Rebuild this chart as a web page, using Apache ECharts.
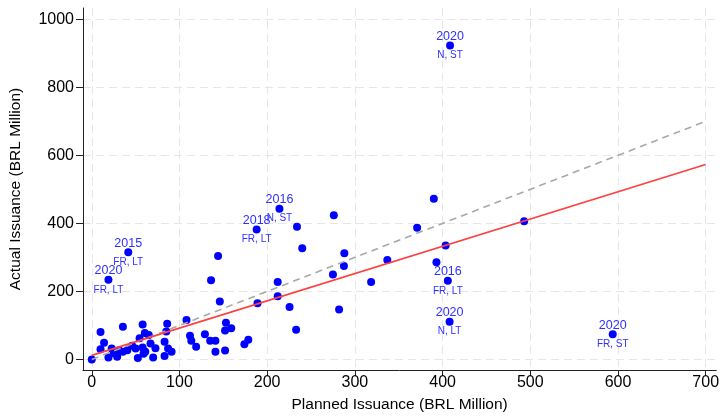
<!DOCTYPE html>
<html>
<head>
<meta charset="utf-8">
<script src="https://cdn.jsdelivr.net/npm/echarts@6/dist/echarts.min.js"></script>
<style>
  html, body { margin: 0; padding: 0; background: #fff; }
  #main { width: 722px; height: 418px; }
</style>
</head>
<body>
<div id="main"></div>
<script>
// planned vs actual issuance (BRL million), unlabelled points
const plannedX = [144, 136, 212, 212, 146, 189, 276, 234, 240, 288, 287.5, 275, 318.5, 225.5, 282, 233,
  390, 371, 493, 403.5, 337, 393, 108, 153, 159, 152, 112, 113.5, 119, 129, 135, 141, 141, 152, 178.5, 174,
  86, 85, 83, 87, 91, 83, 0, 10, 14, 10, 35.5, 58, 60.5, 65, 54.5, 46, 50, 58, 61, 72.6, 70, 52.5, 59,
  22.7, 25, 19, 29, 31, 35.5, 40.5, 67];
const actualY = [304, 233, 228, 186, 170, 165, 424, 390, 327, 312, 275, 250, 228, 154, 147, 87,
  472, 387, 406, 335, 292, 286, 116, 108, 92, 85, 70, 55, 37, 74, 55, 55, 23, 26, 58, 45,
  105, 82, 52, 32, 23, 10, 0, 81, 49, 30, 96, 103, 78, 72, 62, 40, 32, 35, 23, 33, 6, 4, 17,
  32, 18, 6, 8, 27, 23, 27, 47];

// labelled points
const labelX = [19, 41.6, 188, 214, 408.5, 406, 408, 594];
const labelY = [234, 315, 382, 443, 923, 231, 111, 74];
const labelYear = ["2020", "2015", "2018", "2016", "2020", "2016", "2020", "2020"];
const labelType = ["FR, LT", "FR, LT", "FR, LT", "N, ST", "N, ST", "FR, LT", "N, LT", "FR, ST"];

// fitted line and 45-degree line
const fitX = [0, 700];
const fitY = [12, 573];
const diagX = [0, 700];
const diagY = [0, 700];

const xTicks = [0, 100, 200, 300, 400, 500, 600, 700];
const yTicks = [0, 200, 400, 600, 800, 1000];

const font = "Liberation Sans, Arial, sans-serif";
const gridLine = { show: true, lineStyle: { color: "#e6e6e6", type: [8, 5], width: 1 } };
const labelBlue = "#3030ff";

const chart = echarts.init(document.getElementById("main"));

chart.setOption({
  backgroundColor: "#fff",
  animation: false,
  grid: { left: 81, right: 5, top: 8, bottom: 44 },
  xAxis: {
    type: "value",
    min: -10,
    max: 712,
    name: "Planned Issuance (BRL Million)",
    nameLocation: "middle",
    nameGap: 27,
    nameTextStyle: { fontFamily: font, fontSize: 15.5, color: "#000" },
    axisLine: { show: true, onZero: false, lineStyle: { color: "#222", width: 1 } },
    axisTick: { show: true, length: 6, customValues: xTicks, lineStyle: { color: "#222" } },
    axisLabel: { customValues: xTicks, margin: 5, fontFamily: font, fontSize: 16, color: "#000",
      formatter: (v) => String(v) },
    splitLine: gridLine,
  },
  yAxis: {
    type: "value",
    min: -31,
    max: 1033,
    name: "Actual Issuance (BRL Million)",
    nameLocation: "middle",
    nameGap: 59,
    nameTextStyle: { fontFamily: font, fontSize: 15.5, color: "#000" },
    axisLine: { show: true, onZero: false, lineStyle: { color: "#222", width: 1 } },
    axisTick: { show: true, length: 7, customValues: yTicks, lineStyle: { color: "#222" } },
    axisLabel: { customValues: yTicks, margin: 9, fontFamily: font, fontSize: 16, color: "#000",
      formatter: (v) => String(v) },
    splitLine: gridLine,
  },
  series: [
    {
      type: "scatter",
      symbolSize: 8,
      itemStyle: { color: "#0000ff", opacity: 1 },
      data: plannedX.map((x, i) => [x, actualY[i]]),
      z: 2,
    },
    {
      type: "scatter",
      symbolSize: 8,
      itemStyle: { color: "#0000ff", opacity: 1 },
      data: labelX.map((x, i) => [x, labelY[i], labelYear[i], labelType[i]]),
      label: {
        show: true,
        position: "inside",
        formatter: (p) => "{y|" + p.data[2] + "}\n{g|}\n{s|" + p.data[3] + "}",
        rich: {
          y: { fontFamily: font, fontSize: 12.5, lineHeight: 13, color: labelBlue },
          g: { fontSize: 1, lineHeight: 7 },
          s: { fontFamily: font, fontSize: 10, lineHeight: 11, color: labelBlue },
        },
      },
      z: 2,
    },
    {
      type: "line",
      data: diagX.map((x, i) => [x, diagY[i]]),
      showSymbol: false,
      lineStyle: { color: "#a8a8a8", width: 1.6, type: [7, 5] },
      z: 3,
    },
    {
      type: "line",
      data: fitX.map((x, i) => [x, fitY[i]]),
      showSymbol: false,
      lineStyle: { color: "#ff4040", width: 1.6 },
      z: 4,
    },
  ],
});
</script>
</body>
</html>
